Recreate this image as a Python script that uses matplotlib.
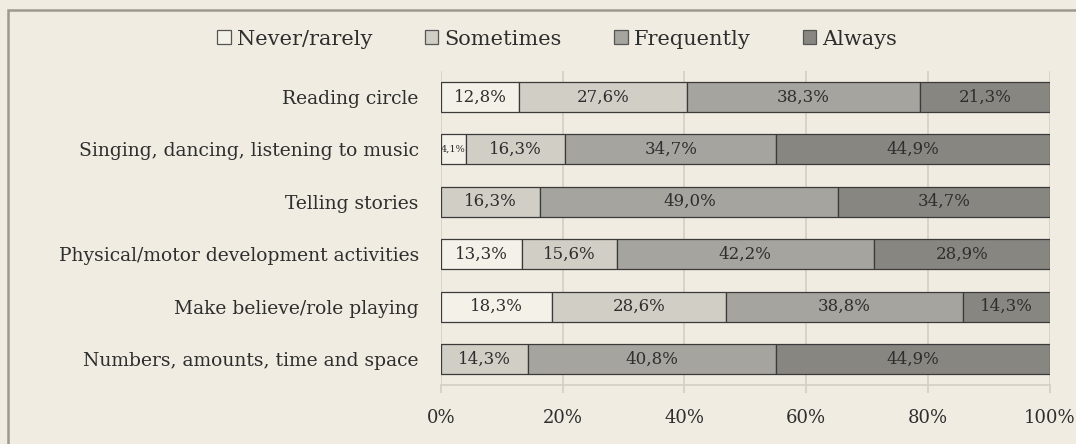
import matplotlib

matplotlib.use("Agg")

import matplotlib.pyplot as plt
from matplotlib.patches import Rectangle


CATEGORIES = [
    "Reading circle",
    "Singing, dancing, listening to music",
    "Telling stories",
    "Physical/motor development activities",
    "Make believe/role playing",
    "Numbers, amounts, time and space",
]
SERIES = ["Never/rarely", "Sometimes", "Frequently", "Always"]
NEVER = [12.8, 4.1, 0.0, 13.3, 18.3, 0.0]
SOMETIMES = [27.6, 16.3, 16.3, 15.6, 28.6, 14.3]
FREQUENTLY = [38.3, 34.7, 49.0, 42.2, 38.8, 40.8]
ALWAYS = [21.3, 44.9, 34.7, 28.9, 14.3, 44.9]
X_TICKS = [0, 20, 40, 60, 80, 100]

BG = "#f0ece1"
COLORS = ["#f4f1e8", "#d1cec6", "#a5a49e", "#878681"]
TEXT = "#2e2e2e"
GRID = "#d3cfc4"

plt.rcParams["font.family"] = ["DejaVu Serif"]


def fmt(value: float) -> str:
    return f"{value:.1f}".replace(".", ",") + "%"


def main() -> None:
    fig = plt.figure(figsize=(10.76, 4.44), dpi=100, facecolor=BG)
    ax = fig.add_axes([0.4099, 0.1324, 0.5656, 0.7081])
    ax.set_facecolor(BG)

    # outer frame (only top/left visible in the reference)
    fig.patches.append(
        Rectangle((8 / 1076, -0.2), 1.2, 1.2 - 10 / 444,
                  transform=fig.transFigure, facecolor="none",
                  edgecolor="#9c998f", linewidth=1.8, zorder=0)
    )

    values = [NEVER, SOMETIMES, FREQUENTLY, ALWAYS]
    ypos = list(range(len(CATEGORIES)))
    left = [0.0] * len(CATEGORIES)
    for name, vals, color in zip(SERIES, values, COLORS):
        ax.barh(ypos, vals, left=left, height=0.575, color=color,
                edgecolor="#3a3a3a", linewidth=0.9, label=name, zorder=3)
        for y, v, l in zip(ypos, vals, left):
            if v <= 0:
                continue
            size = 7 if v < 6 else 12
            ax.text(l + v / 2, y, fmt(v), ha="center", va="center",
                    fontsize=size, color=TEXT, zorder=4)
        left = [a + b for a, b in zip(left, vals)]

    ax.set_xlim(0, 100)
    ax.set_ylim(len(CATEGORIES) - 0.5, -0.5)
    ax.set_yticks(ypos)
    ax.set_yticklabels(CATEGORIES, fontsize=13.5, color=TEXT)
    ax.tick_params(axis="y", length=0, pad=16)
    ax.set_xticks(X_TICKS)
    ax.set_xticklabels([f"{t}%" for t in X_TICKS], fontsize=13, color=TEXT)
    ax.tick_params(axis="x", length=6, width=1.2, color=GRID, pad=11)
    ax.grid(axis="x", color=GRID, linewidth=1.2, zorder=0)
    for side in ["top", "right", "left"]:
        ax.spines[side].set_visible(False)
    ax.spines["bottom"].set_color(GRID)
    ax.spines["bottom"].set_linewidth(1.2)

    leg = fig.legend(loc="center", bbox_to_anchor=(0.518, 0.912), ncol=4,
                     frameon=False, fontsize=15, handlelength=0.65,
                     handleheight=0.65, handletextpad=0.3, columnspacing=2.5,
                     labelcolor=TEXT)
    for handle in leg.legend_handles:
        handle.set_edgecolor("#555555")
        handle.set_linewidth(0.9)

    fig.savefig("out.png", dpi=100, facecolor=BG)
    plt.close(fig)


if __name__ == "__main__":
    main()
